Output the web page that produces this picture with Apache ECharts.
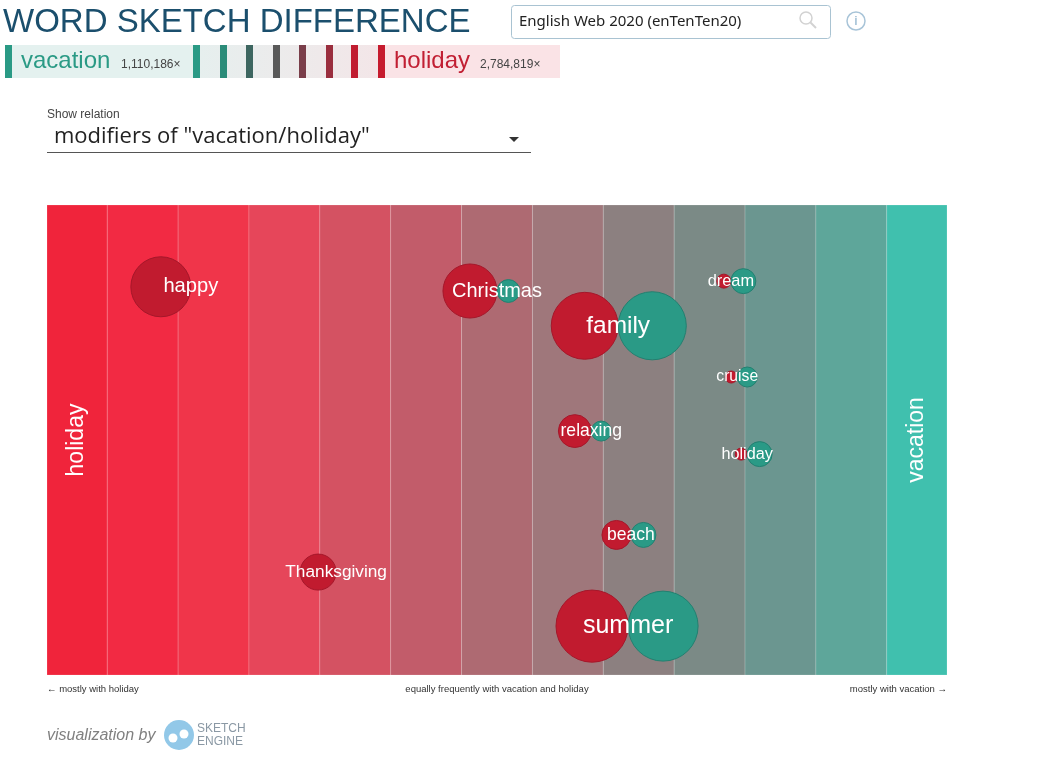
<!DOCTYPE html>
<html>
<head>
<meta charset="utf-8">
<title>Word Sketch Difference</title>
<script src="https://cdn.jsdelivr.net/npm/echarts@6/dist/echarts.min.js"></script>
<style>
  html, body { margin: 0; padding: 0; background: #fff; }
  #chart { width: 1045px; height: 773px; }
</style>
</head>
<body>
<div id="chart"></div>
<script>
// scale bands: centred on -6 ... 6, outer ones clipped by the axis range
const bandCenters = [-6, -5, -4, -3, -2, -1, 0, 1, 2, 3, 4, 5, 6];
const bandColors = ['#f0243b', '#f22a43', '#f0354a', '#e6465a', '#d45262', '#c25c6a', '#ae6a72',
                    '#9f777b', '#8c8080', '#7b8a86', '#6b9690', '#5ea69a', '#40c0ae'];

// collocations (modifiers of vacation / holiday)
const words = ['happy', 'Christmas', 'family', 'dream', 'cruise', 'relaxing', 'holiday', 'beach', 'Thanksgiving', 'summer'];
const wordScore = [-4.32, 0.0, 1.71, 3.30, 3.39, 1.33, 3.53, 1.89, -2.27, 1.85];
const wordRow = [17.4, 18.3, 25.7, 16.2, 36.6, 48.1, 53.0, 70.2, 78.1, 89.6];
const holidayFreq = [90000, 73000, 112000, 4900, 3600, 27000, 3600, 21000, 32400, 130000];
const vacationFreq = [0, 13000, 116000, 15600, 10000, 10000, 15600, 15600, 0, 122500];

const bottomLabels = ['\u2190 mostly with holiday', 'equally frequently with vacation and holiday', 'mostly with vacation \u2192'];

const xMin = -6.35, xMax = 6.35;
const radius = f => 0.1 * Math.sqrt(f);
const labelSize = i => 12.9 + 0.0242 * Math.sqrt(holidayFreq[i] + vacationFreq[i]);

const chart = echarts.init(document.getElementById('chart'));

const redData = words.map((w, i) => ({
  value: [wordScore[i], wordRow[i]],
  symbolSize: 2 * radius(holidayFreq[i]),
  symbolOffset: [-radius(holidayFreq[i]), 0]
}));
const tealData = words.map((w, i) => ({
  value: [wordScore[i], wordRow[i]],
  symbolSize: 2 * radius(vacationFreq[i]),
  symbolOffset: [radius(vacationFreq[i]), 0]
}));
const labelData = words.map((w, i) => ({
  name: w,
  value: [wordScore[i], wordRow[i]],
  label: { fontSize: labelSize(i) }
}));

const sans = 'Liberation Sans, Arial, sans-serif';
const legendBars = ['#2a9a85', '#2b8c79', '#3d6660', '#595959', '#7a3e4a', '#9a2e3e', '#c01c30', '#c61b2e'];
const legendBarX = [193, 220, 246, 273, 299, 326, 351, 378];

const graphics = [
  { type: 'text', left: 3, top: 6, style: { text: 'WORD SKETCH DIFFERENCE', font: '33px ' + sans, fill: '#1b4f6d' } },
  { type: 'rect', shape: { x: 511.5, y: 5.5, width: 319, height: 33, r: 3 }, style: { fill: '#fff', stroke: '#a9c3d2', lineWidth: 1 } },
  { type: 'text', x: 519, y: 22, style: { text: 'English Web 2020 (enTenTen20)', font: '15px Noto Sans, sans-serif', fill: '#222', verticalAlign: 'middle' } },
  { type: 'circle', shape: { cx: 806, cy: 18, r: 6 }, style: { fill: 'none', stroke: '#d2d2d2', lineWidth: 1.5 } },
  { type: 'line', shape: { x1: 810.5, y1: 22.5, x2: 816, y2: 28 }, style: { stroke: '#d2d2d2', lineWidth: 2 } },
  { type: 'circle', shape: { cx: 856, cy: 21, r: 9 }, style: { fill: 'none', stroke: '#a8c4d8', lineWidth: 1.5 } },
  { type: 'text', x: 856, y: 21.5, style: { text: 'i', font: 'bold 12px ' + sans, fill: '#a8c4d8', align: 'center', verticalAlign: 'middle' } },

  // frequency legend row
  { type: 'rect', shape: { x: 12, y: 45, width: 181, height: 33 }, style: { fill: '#e4f1ef' } },
  { type: 'rect', shape: { x: 200, y: 45, width: 178, height: 33 },
    style: { fill: new echarts.graphic.LinearGradient(0, 0, 1, 0, [{ offset: 0, color: '#e6efee' }, { offset: 1, color: '#f3e6e8' }]) } },
  { type: 'rect', shape: { x: 385, y: 45, width: 175, height: 33 }, style: { fill: '#fae3e6' } },
  { type: 'rect', shape: { x: 5, y: 45, width: 7, height: 33 }, style: { fill: '#2a9a85' } },
  { type: 'text', x: 21, y: 61, style: { text: 'vacation', font: '24px ' + sans, fill: '#2a9a85', verticalAlign: 'middle' } },
  { type: 'text', x: 121, y: 65, style: { text: '1,110,186\u00d7', font: '12px ' + sans, fill: '#444', verticalAlign: 'middle' } },
  { type: 'text', x: 394, y: 61, style: { text: 'holiday', font: '24px ' + sans, fill: '#c11f33', verticalAlign: 'middle' } },
  { type: 'text', x: 480, y: 65, style: { text: '2,784,819\u00d7', font: '12px ' + sans, fill: '#444', verticalAlign: 'middle' } },

  // relation selector
  { type: 'text', x: 47, y: 115, style: { text: 'Show relation', font: '12px ' + sans, fill: '#444', verticalAlign: 'middle' } },
  { type: 'text', x: 54, y: 137, style: { text: 'modifiers of "vacation/holiday"', font: '22px Open Sans, sans-serif', fill: '#222', verticalAlign: 'middle' } },
  { type: 'polygon', shape: { points: [[509, 137], [519, 137], [514, 142]] }, style: { fill: '#333' } },
  { type: 'line', shape: { x1: 47, y1: 152.5, x2: 531, y2: 152.5 }, style: { stroke: '#555', lineWidth: 1 } },

  // side labels inside the outer bands
  { type: 'text', x: 77, y: 440, rotation: Math.PI / 2, z: 10,
    style: { text: 'holiday', font: '23px ' + sans, fill: '#fff', align: 'center', verticalAlign: 'middle' } },
  { type: 'text', x: 917, y: 440, rotation: Math.PI / 2, z: 10,
    style: { text: 'vacation', font: '23px ' + sans, fill: '#fff', align: 'center', verticalAlign: 'middle' } },

  // scale captions
  { type: 'text', x: 47, y: 689, style: { text: bottomLabels[0], font: '9.5px ' + sans, fill: '#333', verticalAlign: 'middle' } },
  { type: 'text', x: 497, y: 689, style: { text: bottomLabels[1], font: '9.5px ' + sans, fill: '#333', align: 'center', verticalAlign: 'middle' } },
  { type: 'text', x: 947, y: 689, style: { text: bottomLabels[2], font: '9.5px ' + sans, fill: '#333', align: 'right', verticalAlign: 'middle' } },

  // footer
  { type: 'text', x: 47, y: 736, style: { text: 'visualization by', font: 'italic 16px ' + sans, fill: '#808080', verticalAlign: 'middle' } },
  { type: 'circle', shape: { cx: 179, cy: 735, r: 15 }, style: { fill: '#92c8e8' } },
  { type: 'circle', shape: { cx: 173, cy: 738, r: 4.5 }, style: { fill: '#fff' } },
  { type: 'circle', shape: { cx: 184, cy: 734, r: 4.5 }, style: { fill: '#fff' } },
  { type: 'text', x: 197, y: 729, style: { text: 'SKETCH', font: '12px ' + sans, fill: '#8a98a4', verticalAlign: 'middle' } },
  { type: 'text', x: 197, y: 742, style: { text: 'ENGINE', font: '12px ' + sans, fill: '#8a98a4', verticalAlign: 'middle' } }
];

legendBarX.forEach((x, i) => {
  graphics.push({ type: 'rect', shape: { x: x, y: 45, width: 7, height: 33 }, style: { fill: legendBars[i] } });
});

chart.setOption({
  animation: false,
  grid: { left: 47, top: 205, width: 900, height: 470 },
  xAxis: { type: 'value', min: xMin, max: xMax, show: false },
  yAxis: { type: 'value', min: 0, max: 100, inverse: true, show: false },
  graphic: graphics,
  series: [
    {
      type: 'custom',
      name: 'bands',
      silent: true,
      z: 1,
      data: bandCenters.map((c, i) => [c, i]),
      renderItem: (params, api) => {
        const c = api.value(0);
        const i = api.value(1);
        const p0 = api.coord([Math.max(c - 0.5, xMin), 0]);
        const p1 = api.coord([Math.min(c + 0.5, xMax), 100]);
        return {
          type: 'rect',
          shape: { x: p0[0], y: p0[1], width: p1[0] - p0[0], height: p1[1] - p0[1] },
          style: { fill: bandColors[i], stroke: 'rgba(255,255,255,0.16)', lineWidth: 1 }
        };
      }
    },
    {
      type: 'scatter',
      name: 'holiday',
      z: 2,
      symbol: 'circle',
      itemStyle: { color: '#c11b2f', borderColor: '#a5172a', borderWidth: 1, opacity: 1 },
      data: redData
    },
    {
      type: 'scatter',
      name: 'vacation',
      z: 3,
      symbol: 'circle',
      itemStyle: { color: '#2a9a86', borderColor: '#228070', borderWidth: 1, opacity: 1 },
      data: tealData
    },
    {
      type: 'scatter',
      name: 'labels',
      z: 4,
      symbolSize: 0,
      silent: true,
      itemStyle: { opacity: 1 },
      label: {
        show: true,
        position: 'inside',
        formatter: '{b}',
        color: '#ffffff',
        opacity: 1,
        fontFamily: sans
      },
      data: labelData
    }
  ]
});
</script>
</body>
</html>
